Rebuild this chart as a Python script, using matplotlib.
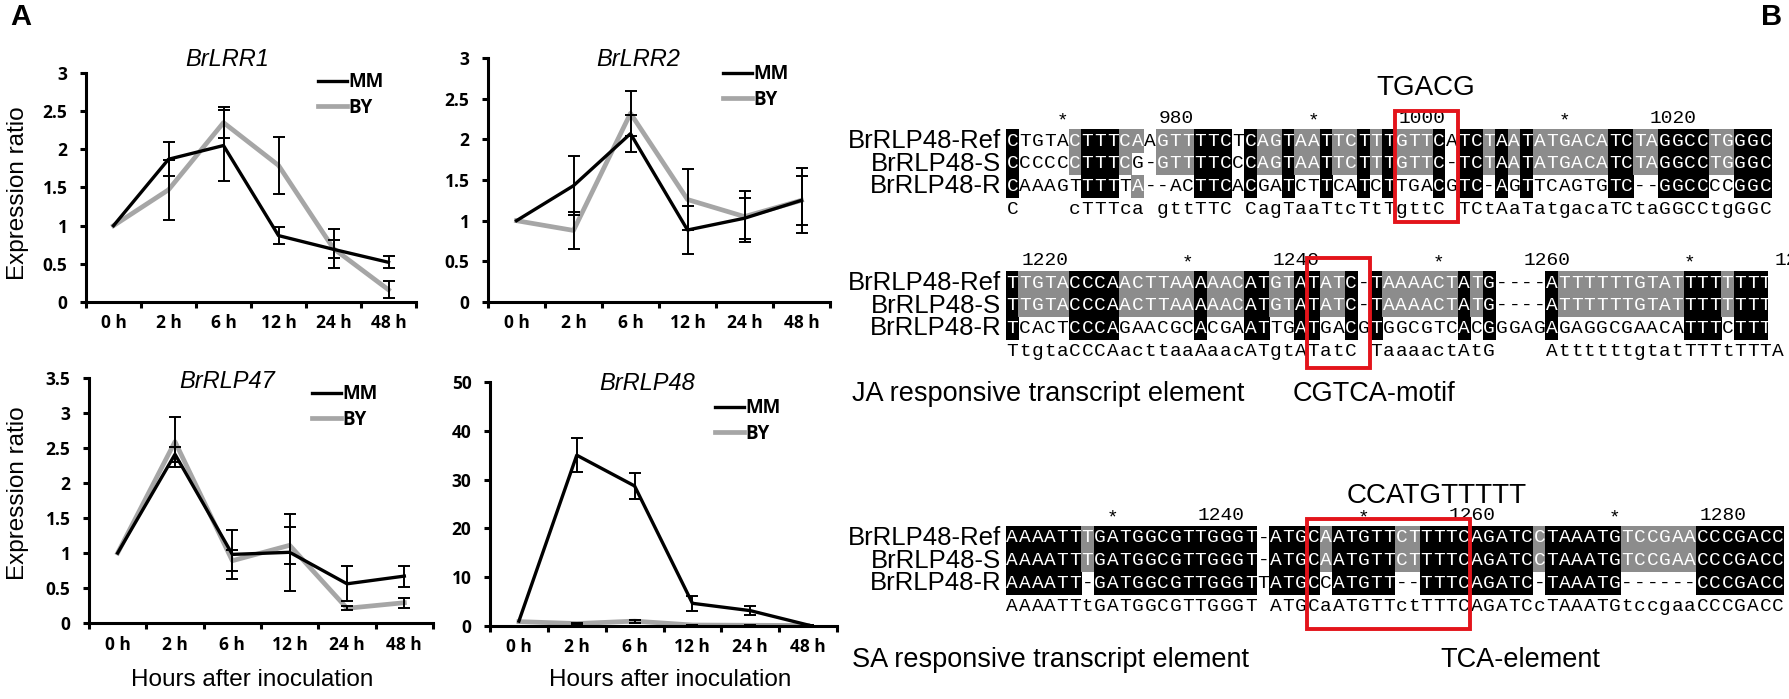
import numpy as np
import matplotlib.pyplot as plt
from matplotlib.patches import Rectangle
from matplotlib.lines import Line2D
from matplotlib.ticker import FormatStrFormatter

# ---- Panel A data ----
hours = ['0 h', '2 h', '6 h', '12 h', '24 h', '48 h']

lrr1_mm = [1.0, 1.87, 2.05, 0.87, 0.69, 0.52]
lrr1_mm_err = [0, 0.22, 0.47, 0.11, 0.12, 0.08]
lrr1_by = [1.0, 1.47, 2.35, 1.79, 0.70, 0.16]
lrr1_by_err = [0, 0.39, 0.20, 0.37, 0.25, 0.11]

lrr2_mm = [1.0, 1.43, 2.07, 0.885, 1.03, 1.25]
lrr2_mm_err = [0, 0.36, 0.23, 0.29, 0.25, 0.30]
lrr2_by = [1.0, 0.88, 2.32, 1.26, 1.05, 1.25]
lrr2_by_err = [0, 0.23, 0.28, 0.38, 0.31, 0.40]

rlp47_mm = [1.0, 2.41, 0.98, 1.01, 0.56, 0.67]
rlp47_mm_err = [0, 0.11, 0.35, 0.55, 0.25, 0.15]
rlp47_by = [1.0, 2.59, 0.89, 1.11, 0.21, 0.29]
rlp47_by_err = [0, 0.36, 0.15, 0.26, 0.03, 0.07]

rlp48_mm = [1.0, 35.0, 28.7, 4.65, 3.15, 0.2]
rlp48_mm_err = [0, 3.5, 2.6, 1.5, 0.95, 0.1]
rlp48_by = [0.9, 0.5, 1.0, 0.2, 0.15, 0.1]
rlp48_by_err = [0, 0.1, 0.3, 0.05, 0.05, 0.02]

# ---- Panel B data (alignments) ----
row_names = ['BrRLP48-Ref', 'BrRLP48-S', 'BrRLP48-R']

blk1_ref = "CTGTACTTTCAAGTTTTCTCAGTAATTCTTTGTTCATCTAATATGACATCTAGGCCTGGGC"
blk1_s   = "CCCCCCTTTCG-GTTTTCCCAGTAATTCTTTGTTC-TCTAATATGACATCTAGGCCTGGGC"
blk1_r   = "CAAAGTTTTTA--ACTTCACGATCTTCATCTTGACGTC-AGTTCAGTGTC--GGCCCCGGC"
blk1_start = 966

blk2_ref = "TTGTACCCAACTTAAAAACATGTATATC-TAAAACTATG----ATTTTTTGTATTTTTTTTA"
blk2_s   = "TTGTACCCAACTTAAAAACATGTATATC-TAAAACTATG----ATTTTTTGTATTTTTTTTA"
blk2_r   = "TCACTCCCAGAACGCACGAATTGATGACGTGGCGTCACGGGAGAGAGGCGAACATTTCTTTA"
blk2_start = 1216

blk3_ref = "AAAATTTGATGGCGTTGGGT-ATGCAATGTTCTTTTCAGATCCTAAATGTCCGAACCCGACC"
blk3_s   = "AAAATTTGATGGCGTTGGGT-ATGCAATGTTCTTTTCAGATCCTAAATGTCCGAACCCGACC"
blk3_r   = "AAAATT-GATGGCGTTGGGTTATGCCATGTT--TTTCAGATC-TAAATG------CCCGACC"
blk3_start = 1222

motif_labels = ['TGACG', 'CCATGTTTTT']
element_labels = ['JA responsive transcript element', 'CGTCA-motif',
                  'SA responsive transcript element', 'TCA-element']

W, H = 1789, 699
fig = plt.figure(figsize=(W / 100, H / 100), dpi=100)


def box(l, t, r, b):
    return [l / W, 1 - b / H, (r - l) / W, (b - t) / H]


def fxy(x, y):
    return (x / W, 1 - y / H)


tick_font = dict(family='Open Sans', weight='bold', size=12.5)
GRAY = '#a6a6a6'


def line_panel(rect, mm, mm_err, by, by_err, ymax, ystep, leg_xy):
    ax = fig.add_axes(rect)
    ax.set_facecolor('none')
    x = np.arange(len(hours))
    ax.plot(x, mm, color='black', lw=2.4, zorder=3)
    ax.plot(x, by, color=GRAY, lw=3.4, zorder=2)
    ax.errorbar(x[1:], mm[1:], yerr=mm_err[1:], fmt='none', ecolor='black',
                elinewidth=1.4, capsize=4.3, capthick=1.4, zorder=4)
    ax.errorbar(x[1:], by[1:], yerr=by_err[1:], fmt='none', ecolor='black',
                elinewidth=1.4, capsize=4.3, capthick=1.4, zorder=4)
    ax.set_xlim(-0.5, len(hours) - 0.5)
    ax.set_ylim(0, ymax)
    ax.set_yticks(np.arange(0, ymax + ystep / 2, ystep))
    ax.yaxis.set_major_formatter(FormatStrFormatter('%g'))
    ax.set_xticks(np.arange(-0.5, len(hours), 1.0))
    ax.set_xticklabels([])
    ax.set_xticks(x, minor=True)
    ax.set_xticklabels(hours, minor=True)
    for s in ['top', 'right']:
        ax.spines[s].set_visible(False)
    for s in ['left', 'bottom']:
        ax.spines[s].set_linewidth(2.2)
    ax.tick_params(axis='both', which='major', direction='out', length=4.3, width=2.2)
    ax.tick_params(axis='y', pad=9)
    ax.tick_params(axis='x', which='minor', length=0, pad=9)
    for lab in ax.get_yticklabels() + ax.get_xticklabels(minor=True):
        lab.set_fontproperties(tick_font)
        lab.set_fontsize(12.5)
    handles = [Line2D([], [], color='black', lw=2.4), Line2D([], [], color=GRAY, lw=3.4)]
    ax.legend(handles, ['MM', 'BY'], loc='center left',
              bbox_to_anchor=fxy(*leg_xy), bbox_transform=fig.transFigure,
              frameon=False, borderpad=0, borderaxespad=0, handlelength=1.55,
              handletextpad=0.05, labelspacing=0.3,
              prop=dict(family='Open Sans', weight='bold', size=13.5))
    return ax


line_panel(box(86, 73, 416, 302), lrr1_mm, lrr1_mm_err, lrr1_by, lrr1_by_err, 3, 0.5, (318, 95))
line_panel(box(488, 58, 830, 302), lrr2_mm, lrr2_mm_err, lrr2_by, lrr2_by_err, 3, 0.5, (723, 87))
line_panel(box(89, 378, 433, 623), rlp47_mm, rlp47_mm_err, rlp47_by, rlp47_by_err, 3.5, 0.5, (312, 407))
line_panel(box(490, 382, 837, 626), rlp48_mm, rlp48_mm_err, rlp48_by, rlp48_by_err, 50, 10, (715, 421))

# overlay axes in pixel coordinates for text and panel B
axb = fig.add_axes([0, 0, 1, 1])
axb.set_xlim(0, W)
axb.set_ylim(H, 0)
axb.axis('off')

sans = 'Liberation Sans'
axb.text(21, 17, 'A', fontsize=21, weight='bold', family=sans, ha='center', va='center')
axb.text(1772, 17, 'B', fontsize=21, weight='bold', family=sans, ha='center', va='center')

titles = ['BrLRR1', 'BrLRR2', 'BrRLP47', 'BrRLP48']
title_xy = [(227, 59), (638, 59), (227, 382), (647, 383)]
for t, (tx, ty) in zip(titles, title_xy):
    axb.text(tx, ty, t, fontsize=17, style='italic', family=sans, ha='center', va='center')

for yy in [193, 493]:
    axb.text(18, yy, 'Expression ratio', fontsize=17.5, family=sans, rotation=90,
             ha='center', va='center')
for xx in [252, 670]:
    axb.text(xx, 680, 'Hours after inoculation', fontsize=17.5, family=sans,
             ha='center', va='center')

# ---- alignment blocks ----
X0, CW, PITCH = 1006, 12.55, 22.7
SHADE_GRAY = '#8c8c8c'
mono = dict(family='Liberation Mono', size=14)


def draw_block(seqs, start, y_ref, motif_cols, box_tb, clip=None, extra=0):
    arts = []
    n = len(seqs[0])
    for i, name in enumerate(row_names):
        arts.append(axb.text(X0 - 5, y_ref + i * PITCH, name, fontsize=18.5, family=sans,
                             ha='right', va='center'))
    for j in range(n + extra):
        xl = X0 + j * CW
        xc = xl + CW / 2
        pos = start + j
        if pos % 20 == 0:
            arts.append(axb.text(xl + CW, y_ref - PITCH, str(pos), ha='right',
                                 va='center', **mono))
        elif pos % 10 == 0:
            arts.append(axb.text(xc, y_ref - PITCH + 3, '*', ha='center',
                                 va='center', **mono))
        if j >= n:
            continue
        col = [s[j] for s in seqs]
        letters = [c for c in col if c != '-']
        best, k = None, 0
        for c in set(letters):
            if letters.count(c) > k:
                best, k = c, letters.count(c)
        for i, c in enumerate(col):
            y = y_ref + i * PITCH
            shade = None
            if c != '-' and k >= 2 and c == best:
                shade = 'black' if k == 3 else SHADE_GRAY
            if shade:
                arts.append(axb.add_patch(Rectangle((xl - 0.2, y - PITCH / 2 - 0.2),
                                                    CW + 0.4, PITCH + 0.4,
                                                    color=shade, lw=0)))
            arts.append(axb.text(xc, y, c, color='white' if shade else 'black',
                                 ha='center', va='center', **mono))
        if k == 3:
            cons = best
        elif k == 2:
            cons = best.lower()
        else:
            cons = ' '
        arts.append(axb.text(xc, y_ref + 3 * PITCH, cons, ha='center', va='center', **mono))
    c0, c1 = motif_cols
    axb.add_patch(Rectangle((X0 + (c0 - 1) * CW, box_tb[0]), (c1 - c0 + 1) * CW,
                            box_tb[1] - box_tb[0], fill=False, ec='#e3141b', lw=2.8,
                            zorder=5))
    if clip is not None:
        cp = Rectangle((clip[0], clip[1]), clip[2] - clip[0], clip[3] - clip[1],
                       transform=axb.transData)
        for a in arts:
            a.set_clip_path(cp)


draw_block([blk1_ref, blk1_s, blk1_r], blk1_start, 141, (32, 36), (111, 222))
draw_block([blk2_ref, blk2_s, blk2_r], blk2_start, 283, (25, 29), (258, 368),
           clip=(840, 261, 1768, 380), extra=4)
draw_block([blk3_ref, blk3_s, blk3_r], blk3_start, 538, (25, 37), (519, 629),
           clip=(840, 520, 1789, 640))

axb.text(1437, 496, motif_labels[1], fontsize=20, family=sans, ha='center', va='center')
axb.text(1426, 88, motif_labels[0], fontsize=20, family=sans, ha='center', va='center')
axb.text(852, 394, element_labels[0], fontsize=19.5, family=sans, ha='left', va='center')
axb.text(1293, 394, element_labels[1], fontsize=19.5, family=sans, ha='left', va='center')
axb.text(852, 660, element_labels[2], fontsize=19.5, family=sans, ha='left', va='center')
axb.text(1440, 660, element_labels[3], fontsize=19.5, family=sans, ha='left', va='center')

fig.savefig('out.png', dpi=100)
